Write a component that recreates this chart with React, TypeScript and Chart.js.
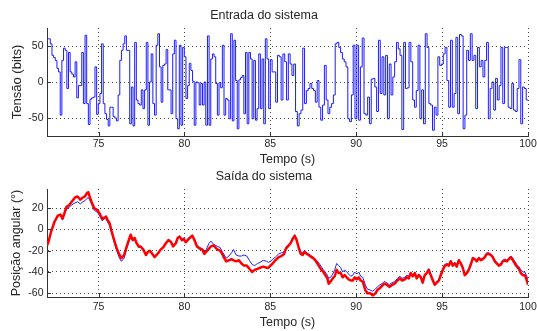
import { useEffect, useRef } from 'react';
import { Chart, registerables } from 'chart.js';

Chart.register(...registerables);

// ---------- data ----------
const xTicks = [75, 80, 85, 90, 95, 100];
const inputYTicks = [-50, 0, 50];
const outputYTicks = [-60, -40, -20, 0, 20];

// input step levels, 72 s -> 85 s
const inputLevelsA = [
  60, 60, 53, 37, 34, 30, 19, 14, -46, 30,
  47, 44, -9, 41, 14, 11, 7, 28, -22, -5,
  -5, 41, -30, 65, -30, -59, -24, -22, -21, 21,
  -45, -30, -16, 53, -30, -44, -52, -61, -35, -35,
  -48, -50, -54, -18, 30, 44, 53, 64, 44, 44,
  -58, -7, -61, 55, -25, -30, -32, -11, -37, -11,
  55, -60, 0, 39, -30, -46, 51, 67, 21, -28,
  23, 25, 45, -11, -11, -44, 39, 58, -51, -65,
  51, -60, 48, 35, -23, -5, 26, 16, 1, -60,
  0, -1, -32, -2, -32, 0, -60, 64, -60, 32,
  39, 35, -2, -46, -1, -8, 51, -46, -23, -25,
  -51, 67, -54, 58, 2, -65, 3, 6, 9, -44,
  41, -58, 41, 32, -51, 30, -53, -37, 39, -37,
  32, -58, 60, 32, -37,
];

// input step levels, 85 s -> 100 s
const inputLevelsB = [
  31, 14, 14, -28, 37, 35, -25, 39, 28, -25,
  39, 25, 9, 25, -41, -61, -44, -39, 47, -30,
  -12, -9, -2, -9, -12, -28, 2, -35, -53, -32,
  23, -25, -44, -35, -30, -18, 53, 55, 48, 41,
  32, 28, 21, -51, -55, -18, 51, -51, 51, -53,
  21, 61, -44, -46, -21, -58, 4, 5, -7, -41,
  58, -16, 35, -18, 37, -51, 25, -18, 7, 28,
  55, 46, 37, -66, 55, -9, -8, 55, 28, -25,
  -35, -12, 51, -51, -11, -58, 67, 48, -30, -32,
  -67, -35, -46, 35, 23, 25, 39, 48, 2, -35,
  58, -35, -16, 62, -44, 66, 64, -65, -46, 44,
  30, 67, 30, 37, -37, 48, 21, 30, 7, 30,
  55, -51, -9, 0, -39, 5, -25, -5, 48, -30,
  48, 48, -35, -37, -2, -39, -41, -9, 31, -58,
  -7, -9, -25,
];

const outTime = [
  72.00, 72.08, 72.24, 72.43, 72.63, 72.78, 72.90, 73.01, 73.13, 73.30,
  73.44, 73.63, 73.78, 73.94, 74.09, 74.21, 74.32, 74.40, 74.48, 74.59,
  74.75, 74.94, 75.06, 75.21, 75.33, 75.44, 75.52, 75.64, 75.75, 75.91,
  76.06, 76.22, 76.33, 76.49, 76.64, 76.76, 76.87, 76.99, 77.10, 77.22,
  77.34, 77.45, 77.61, 77.76, 77.88, 77.99, 78.13, 78.26, 78.38, 78.49,
  78.61, 78.76, 78.92, 79.07, 79.23, 79.34, 79.50, 79.61, 79.73, 79.85,
  79.96, 80.08, 80.19, 80.31, 80.46, 80.58, 80.73, 80.89, 81.04, 81.16,
  81.27, 81.43, 81.54, 81.70, 81.81, 81.93, 82.08, 82.20, 82.32, 82.43,
  82.59, 82.74, 82.86, 83.01, 83.17, 83.32, 83.47, 83.63, 83.78, 83.94,
  84.09, 84.25, 84.40, 84.59, 84.79, 84.90,
  85.00, 85.14, 85.29, 85.49, 85.64, 85.80, 85.91, 86.07, 86.18, 86.30,
  86.42, 86.53, 86.65, 86.77, 86.88, 87.00, 87.12, 87.23, 87.39, 87.50,
  87.62, 87.74, 87.85, 87.97, 88.09, 88.20, 88.32, 88.40, 88.51, 88.63,
  88.75, 88.86, 88.98, 89.10, 89.21, 89.33, 89.45, 89.56, 89.68, 89.80,
  89.91, 90.03, 90.15, 90.26, 90.38, 90.53, 90.65, 90.81, 90.96, 91.12,
  91.23, 91.39, 91.50, 91.62, 91.78, 91.93, 92.09, 92.24, 92.40, 92.55,
  92.67, 92.83, 92.94, 93.06, 93.17, 93.29, 93.41, 93.52, 93.64, 93.76,
  93.87, 93.99, 94.11, 94.22, 94.34, 94.46, 94.57, 94.69, 94.81, 94.92,
  95.04, 95.16, 95.27, 95.39, 95.50, 95.62, 95.74, 95.85, 95.97, 96.09,
  96.20, 96.32, 96.44, 96.55, 96.67, 96.79, 96.90, 97.02, 97.14, 97.25,
  97.37, 97.49, 97.60, 97.72, 97.83, 97.95, 98.07, 98.18, 98.30, 98.42,
  98.53, 98.65, 98.77, 98.88, 99.00, 99.12, 99.23, 99.35, 99.47, 99.58,
  99.70, 99.82, 99.93, 100.00,
];

const outRed = [
  -15, -12, -2, 7, 13, 14, 10, 15, 21, 23,
  26, 30, 31, 28, 30, 31, 34, 35, 31, 26,
  20, 18, 15, 10, 11, 12, 9, 6, -1, -10,
  -18, -24, -27, -24, -16, -10, -5, -10, -8, -13,
  -16, -16, -19, -24, -21, -20, -23, -26, -24, -22,
  -19, -17, -13, -10, -12, -16, -13, -8, -7, -10,
  -9, -12, -10, -8, -6, -10, -16, -18, -19, -23,
  -21, -18, -16, -15, -17, -19, -20, -23, -27, -30,
  -29, -28, -29, -30, -29, -32, -34, -34, -37, -40,
  -38, -37, -36, -35, -36, -36,
  -34, -32, -29, -26, -25, -23, -18, -15, -13, -9,
  -6, -10, -17, -23, -24, -21, -23, -24, -26, -27,
  -29, -32, -35, -38, -40, -43, -46, -51, -49, -46,
  -44, -38, -41, -41, -45, -43, -45, -47, -48, -48,
  -45, -47, -45, -48, -49, -57, -60, -60, -62, -60,
  -57, -55, -53, -51, -52, -54, -52, -51, -48, -46,
  -48, -47, -45, -46, -41, -44, -41, -46, -43, -45,
  -50, -43, -41, -38, -43, -48, -52, -50, -48, -43,
  -38, -34, -33, -34, -30, -34, -32, -35, -29, -32,
  -36, -43, -41, -38, -33, -27, -28, -30, -27, -29,
  -28, -26, -23, -23, -24, -26, -30, -32, -34, -33,
  -30, -29, -30, -28, -26, -29, -32, -35, -37, -41,
  -43, -43, -48, -52,
];

const outBlue = [
  -15, -12, -2, 7, 13, 13, 9, 14, 19, 21,
  23, 25, 26, 24, 26, 27, 29, 30, 28, 24,
  18, 16, 13, 8, 10, 10, 7, 4, -3, -12,
  -20, -27, -30, -27, -18, -12, -7, -11, -9, -14,
  -17, -17, -20, -23, -21, -20, -22, -25, -24, -22,
  -19, -17, -13, -10, -12, -15, -12, -7, -6, -9,
  -8, -11, -9, -7, -5, -9, -15, -17, -18, -21,
  -19, -13, -11, -14, -15, -16, -17, -21, -24, -27,
  -25, -22, -19, -24, -25, -25, -24, -25, -29, -33,
  -34, -32, -31, -29, -30, -31,
  -30, -28, -26, -23, -22, -21, -17, -14, -12, -8,
  -5, -9, -16, -21, -22, -20, -22, -23, -25, -26,
  -28, -30, -32, -35, -38, -40, -43, -46, -45, -42,
  -38, -32, -34, -36, -40, -38, -40, -42, -44, -43,
  -40, -42, -40, -44, -45, -52, -56, -57, -58, -56,
  -54, -52, -51, -49, -50, -52, -50, -49, -46, -44,
  -46, -45, -43, -44, -40, -43, -40, -45, -42, -44,
  -49, -42, -40, -37, -42, -47, -51, -49, -47, -42,
  -37, -33, -32, -33, -29, -33, -31, -34, -28, -31,
  -35, -42, -40, -37, -32, -26, -27, -29, -26, -28,
  -27, -25, -22, -22, -23, -25, -29, -31, -33, -32,
  -29, -28, -29, -27, -25, -27, -30, -33, -35, -38,
  -40, -40, -44, -47,
];

// ---------- helpers ----------
const FONT = '"Liberation Sans", Arial, Helvetica, sans-serif';
const TEXT = '#262626';
const AXIS = '#333333';
const GRID = 'rgba(40,40,40,0.85)';

function inputPoints() {
  const pts: { x: number; y: number }[] = [];
  const dtA = (85 - 72) / inputLevelsA.length;
  inputLevelsA.forEach((v, i) => pts.push({ x: 72 + i * dtA, y: v }));
  const dtB = (100 - 85) / inputLevelsB.length;
  inputLevelsB.forEach((v, i) => pts.push({ x: 85 + i * dtB, y: v }));
  pts.push({ x: 100, y: inputLevelsB[inputLevelsB.length - 1] });
  return pts;
}

function outPoints(vals: number[]) {
  const n = Math.min(outTime.length, vals.length);
  const pts: { x: number; y: number }[] = [];
  for (let i = 0; i < n; i++) pts.push({ x: outTime[i], y: vals[i] });
  return pts;
}

const innerTicks = {
  id: 'innerTicks',
  afterDatasetsDraw(chart: any) {
    const { ctx, chartArea, scales } = chart;
    const { left, bottom } = chartArea;
    ctx.save();
    ctx.strokeStyle = AXIS;
    ctx.lineWidth = 1;
    ctx.beginPath();
    scales.x.ticks.forEach((t: any) => {
      const px = Math.round(scales.x.getPixelForValue(t.value)) + 0.5;
      ctx.moveTo(px, bottom);
      ctx.lineTo(px, bottom - 4);
    });
    scales.y.ticks.forEach((t: any) => {
      const py = Math.round(scales.y.getPixelForValue(t.value)) + 0.5;
      ctx.moveTo(left, py);
      ctx.lineTo(left + 4, py);
    });
    ctx.stroke();
    ctx.restore();
  },
};

interface Cfg {
  title: string;
  titlePadTop: number;
  titlePadBottom: number;
  yTitle: string;
  yTitleSize: number;
  yMin: number;
  yMax: number;
  yTicks: number[];
  xHeight: number;
  xTickPad: number;
  xTitlePadBottom: number;
}

function makeOptions(c: Cfg): any {
  return {
    responsive: false,
    animation: false,
    devicePixelRatio: 1,
    layout: { padding: { left: 0, right: 9, top: 0, bottom: 0 } },
    plugins: {
      legend: { display: false },
      tooltip: { enabled: false },
      title: {
        display: true,
        text: c.title,
        color: TEXT,
        font: { family: FONT, size: 12.5, weight: 'normal', lineHeight: 1.2 },
        padding: { top: c.titlePadTop, bottom: c.titlePadBottom },
      },
    },
    scales: {
      x: {
        type: 'linear',
        min: 72,
        max: 100,
        afterBuildTicks(scale: any) {
          scale.ticks = xTicks.map((v) => ({ value: v }));
        },
        afterFit(scale: any) {
          scale.height = c.xHeight;
          scale.paddingLeft = 0;
          scale.paddingRight = 0;
        },
        ticks: {
          color: TEXT,
          font: { family: FONT, size: 10.5, lineHeight: 1.2 },
          padding: c.xTickPad,
          autoSkip: false,
          maxRotation: 0,
        },
        grid: { color: GRID, lineWidth: 1, drawTicks: false },
        border: { display: true, color: AXIS, width: 1, dash: [1, 3] },
        title: {
          display: true,
          text: 'Tempo (s)',
          color: TEXT,
          font: { family: FONT, size: 12.5, lineHeight: 1 },
          padding: { top: 0, bottom: c.xTitlePadBottom },
        },
      },
      y: {
        type: 'linear',
        min: c.yMin,
        max: c.yMax,
        afterBuildTicks(scale: any) {
          scale.ticks = c.yTicks.map((v) => ({ value: v }));
        },
        afterFit(scale: any) {
          scale.width = 47;
          scale.paddingTop = 0;
          scale.paddingBottom = 0;
        },
        ticks: {
          color: TEXT,
          font: { family: FONT, size: 10.5, lineHeight: 1.2 },
          padding: 3.5,
          autoSkip: false,
        },
        grid: { color: GRID, lineWidth: 1, drawTicks: false },
        border: { display: true, color: AXIS, width: 1, dash: [1, 3] },
        title: {
          display: true,
          text: c.yTitle,
          color: TEXT,
          font: { family: FONT, size: c.yTitleSize, lineHeight: 1.2 },
          padding: { top: 17 - (c.yTitleSize * 1.2) / 2, bottom: 0 },
        },
      },
    },
  };
}

export default function App() {
  const topRef = useRef<HTMLCanvasElement>(null);
  const botRef = useRef<HTMLCanvasElement>(null);

  useEffect(() => {
    const top = new Chart(topRef.current!, {
      type: 'line',
      data: {
        datasets: [
          {
            data: inputPoints(),
            borderColor: '#1c1cff',
            borderWidth: 1,
            stepped: 'before',
            pointRadius: 0,
            tension: 0,
            fill: false,
          },
        ],
      },
      options: makeOptions({
        title: 'Entrada do sistema',
        titlePadTop: 8,
        titlePadBottom: 5,
        yTitle: 'Tensão (bits)',
        yTitleSize: 13,
        yMin: -75,
        yMax: 75,
        yTicks: inputYTicks,
        xHeight: 30,
        xTickPad: 2.2,
        xTitlePadBottom: 0,
      }),
      plugins: [innerTicks],
    });

    const bot = new Chart(botRef.current!, {
      type: 'line',
      data: {
        datasets: [
          {
            data: outPoints(outRed),
            borderColor: '#ff0000',
            borderWidth: 2.5,
            pointRadius: 0,
            tension: 0,
            fill: false,
            borderJoinStyle: 'round',
          },
          {
            data: outPoints(outBlue),
            borderColor: '#2020ff',
            borderWidth: 1,
            pointRadius: 0,
            tension: 0,
            fill: false,
          },
        ],
      },
      options: makeOptions({
        title: 'Saída do sistema',
        titlePadTop: 3.5,
        titlePadBottom: 4.5,
        yTitle: 'Posição angular (°)',
        yTitleSize: 12.5,
        yMin: -63.5,
        yMax: 38,
        yTicks: outputYTicks,
        xHeight: 34,
        xTickPad: 4.2,
        xTitlePadBottom: 2.25,
      }),
      plugins: [innerTicks],
    });

    return () => {
      top.destroy();
      bot.destroy();
    };
  }, []);

  return (
    <div style={{ position: 'absolute', left: 0, top: 0, width: 537, height: 331, background: '#fff' }}>
      <canvas ref={topRef} width={537} height={166} style={{ position: 'absolute', left: 0, top: 0 }} />
      <canvas ref={botRef} width={537} height={165} style={{ position: 'absolute', left: 0, top: 166 }} />
    </div>
  );
}
